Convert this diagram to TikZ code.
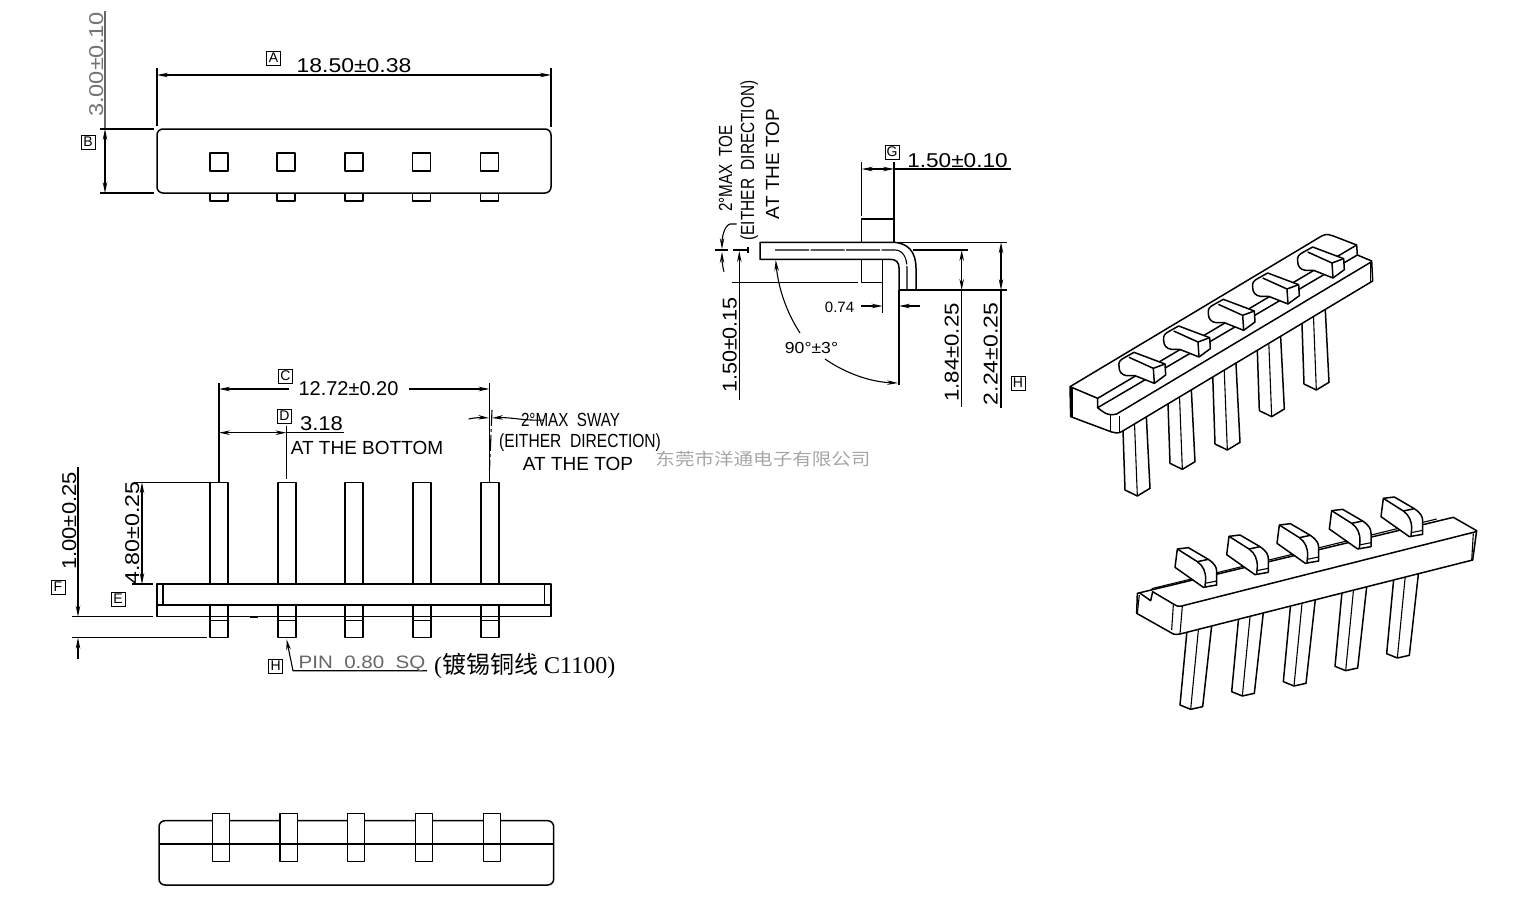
\documentclass[tikz,border=0pt]{standalone}
\usepackage{fontspec}
\usepackage{graphicx}
\usetikzlibrary{arrows.meta}
\setmainfont{Liberation Serif}
\newfontfamily\dimfont{Liberation Sans}
\newfontfamily\cjk{Noto Sans CJK SC}
\newcommand{\squeeze}[2]{\scalebox{#1}[1]{#2}}
\tikzstyle{part} = [line width=1.5pt, line join=round]
\tikzstyle{dimline} = [line width=1.1pt]
\tikzstyle{dimtext} = [inner sep=0pt, anchor=base, font=\dimfont\fontsize{20}{20}\selectfont]
\tikzstyle{notetext} = [inner sep=0pt, anchor=base, font=\dimfont\fontsize{19}{19}\selectfont]
\tikzstyle{refbox} = [rectangle, draw, line width=1pt, inner sep=0pt, minimum size=14pt, font=\dimfont\fontsize{14}{14}\selectfont]

\begin{document}
\begin{tikzpicture}[>={Stealth[length=11pt,width=4.5pt]},x=1pt,y=-1pt]
  \useasboundingbox (0,0) rectangle (1527,913);

  % top view
  \draw[part,rounded corners=6pt] (157,129) rectangle (551,193);
  \foreach \px in {210,277,345,412.5,480.5} {
    \draw[part,line width=1.3pt] (\px,153) rectangle +(18,18);
    \draw[part,line width=1.3pt] (\px,193) -- (\px,201) -- (\px+18,201) -- (\px+18,193);
  }
  \draw[dimline] (157,68) -- (157,126);
  \draw[dimline] (551,68) -- (551,127);
  \draw[dimline,<->] (157,75) -- (551,75);
  \node[refbox] (boxA) at (273.5,58) {A};
  \node[dimtext] (lenA) at (354,72) {\squeeze{1.15}{18.50±0.38}};
  \draw[dimline,black!60] (105,11) -- (105,129);
  \draw[dimline,<->] (105,129) -- (105,193);
  \draw[dimline] (100,129) -- (154,129);
  \draw[dimline] (100,193) -- (154,193);
  \node[refbox] (boxB) at (88,142) {B};
  \node[dimtext,rotate=90,black!55] (lenB) at (103,64.5) {\squeeze{1.18}{3.00±0.10}};

  % front view
  \foreach \px in {210,278,345,413,481} {
    \draw[part] (\px,584) -- (\px,482.3) -- (\px+18,482.3) -- (\px+18,584);
    \draw[part] (\px,605) -- (\px,637.7) -- (\px+18,637.7) -- (\px+18,605);
    \draw[part,line width=1pt] (\px,620.7) -- (\px+18,620.7);
    \draw[part,line width=1pt] (\px,616.7) -- (\px+18,616.7);
  }
  \draw[part] (157,584) rectangle (551,616.7);
  \draw[part] (157,605) -- (551,605);
  \draw[part,line width=1.1pt] (163,584) -- (163,605);
  \draw[part,line width=1.1pt] (544.5,584) -- (544.5,605);
  \draw[part] (250,617.5) -- (258,617.5);

  \draw[dimline] (219,383) -- (219,482);
  \draw[dimline] (489.5,383) -- (489.5,482);
  \draw[dimline,<-] (219,389) -- (289,389);
  \draw[dimline,->] (408.6,389) -- (489.5,389);
  \node[refbox] (boxC) at (285.5,376) {C};
  \node[dimtext] (lenC) at (348.5,395) {12.72±0.20};
  \draw[dimline,<->] (219,432.7) -- (286.5,432.7);
  \draw[dimline] (286.5,432.7) -- (344,432.7);
  \draw[dimline] (286.5,426) -- (286.5,479);
  \node[refbox] (boxD) at (284.5,416) {D};
  \node[dimtext] (lenD) at (321.5,430.5) {\squeeze{1.1}{3.18}};
  \node[notetext] (noteD) at (367,454) {AT THE BOTTOM};

  \draw[dimline,dash pattern=on 16pt off 3pt on 3pt off 3pt] (492,410) -- (489.5,470);
  \draw[dimline,->] (468.6,419) .. controls (475,417.5) and (482,417.5) .. (489,418);
  \draw[dimline,->] (544,420) .. controls (525,421) and (510,417) .. (492,418);
  \node[notetext] (noteSwayA) at (570.5,426) {\squeeze{.8}{2°MAX\ \ SWAY}};
  \node[notetext] (noteSwayB) at (580,447) {\squeeze{.82}{(EITHER\ \ DIRECTION)}};
  \node[notetext] (noteSwayC) at (578,470) {AT THE TOP};
  \node[inner sep=0pt,text=black!35,font=\cjk\fontsize{17}{17}\selectfont] (mark) at (763,459) {\squeeze{1.15}{东莞市洋通电子有限公司}};

  \draw[dimline] (134,482.3) -- (210,482.3);
  \draw[dimline] (132,584) -- (153,584);
  \draw[dimline,<->] (142,482.3) -- (142,584);
  \node[dimtext,rotate=90] (lenE) at (139,533) {\squeeze{1.16}{4.80±0.25}};
  \node[refbox] (boxE) at (118,599) {E};

  \draw[dimline] (72,616.7) -- (153,616.7);
  \draw[dimline] (72,637.7) -- (207,637.7);
  \draw[dimline,->] (78,467) -- (78,616.7);
  \draw[dimline,->] (78,659) -- (78,637.7);
  \node[dimtext,rotate=90] (lenF) at (76,521) {\squeeze{1.1}{1.00±0.25}};
  \node[refbox] (boxF) at (58,587) {F};

  \node[refbox] (boxH) at (275.7,666) {H};
  \draw[dimline,<-] (286.5,639) -- (293,670.7) -- (427,670.7);
  \node[dimtext,text=black!60,font=\dimfont\fontsize{18}{18}\selectfont] (notePin) at (362,668) {\squeeze{1.14}{PIN\ \ 0.80\ \ SQ}};
  \node[inner sep=0pt,anchor=base west,font=\fontsize{24}{24}\selectfont] (noteCu) at (434,673) {({\cjk\fontsize{24}{24}\selectfont 镀锡铜线} C1100)};

  % bottom view
  \draw[part,rounded corners=6pt] (159,820.7) rectangle (553.7,885);
  \foreach \px in {212.3,280,347.3,415.3,483.3} {
    \draw[part,fill=white] (\px,813.7) rectangle +(17.4,48);
  }
  \draw[part] (159,844) -- (553.7,844);

  % side view
  \draw[part] (760,242.3) -- (892,242.3) .. controls (908,242.3) and (916,252) .. (916,268)
    -- (916,290) -- (899,290) -- (899,268) .. controls (899,262) and (896,259.3) .. (890,259.3)
    -- (760,259.3) -- cycle;
  \draw[dimline,dash pattern=on 34pt off 1.5pt] (775,250) -- (895,250) .. controls (903,250) and (907,258) .. (907,268) -- (907,290);
  \draw[part] (861.7,242.3) -- (861.7,219) -- (894,219) -- (894,242.3);
  \draw[part] (861.7,259.3) -- (861.7,282.3) -- (882.7,282.3) -- (882.7,259.3);

  \draw[dimline] (861.7,162) -- (861.7,215.7);
  \draw[dimline] (894,162) -- (894,219);
  \draw[dimline,<->] (861.7,169) -- (894,169);
  \draw[dimline] (894,169) -- (1011,169);
  \node[refbox] (boxG) at (892,152) {G};
  \node[dimtext] (lenG) at (957.5,167) {\squeeze{1.13}{1.50±0.10}};

  \draw[dimline] (894,242.3) -- (1007,242.3);
  \draw[dimline] (913,250) -- (968,250);
  \draw[dimline] (899,290) -- (1007,290);
  \draw[dimline,<->] (961.7,250) -- (961.7,290);
  \draw[dimline] (961.7,290) -- (961.7,407);
  \draw[dimline,<->] (1001,242.3) -- (1001,290);
  \draw[dimline] (1001,290) -- (1001,408);
  \node[dimtext,rotate=90] (lenJ) at (958.5,352.5) {\squeeze{1.11}{1.84±0.25}};
  \node[dimtext,rotate=90] (lenK) at (997.5,354) {\squeeze{1.15}{2.24±0.25}};
  \node[refbox] (boxH2) at (1018,383) {H};

  \draw[dimline] (732,282.3) -- (858,282.3);
  \draw[dimline,->] (739.3,400) -- (739.3,251);
  \node[dimtext,rotate=90] (lenL) at (736.5,345) {\squeeze{1.08}{1.50±0.15}};
  \draw[dimline] (715,250) -- (728,250);
  \draw[dimline] (733,250) -- (748,250);
  \draw[dimline] (748,247) -- (748,253);
  \draw[dimline,->] (736.7,224) -- (730,224) .. controls (724,226) and (722,238) .. (722,249);
  \draw[dimline,->] (724,271.7) .. controls (722,265) and (722,258) .. (722,252);
  \node[notetext,rotate=90] (noteToeA) at (732,168.5) {\squeeze{.8}{2°MAX\ \ TOE}};
  \node[notetext,rotate=90] (noteToeB) at (754,160.5) {\squeeze{.81}{(EITHER\ \ DIRECTION)}};
  \node[notetext,rotate=90] (noteToeC) at (779,164) {AT THE TOP};

  \draw[dimline] (882.7,282.3) -- (882.7,313);
  \draw[dimline] (899,290) -- (899,385);
  \draw[dimline,->] (861,306) -- (882.7,306);
  \draw[dimline,->] (920,306) -- (899,306);
  \node[dimtext,font=\dimfont\fontsize{15}{15}\selectfont] (lenM) at (839.5,312) {0.74};
  \node[dimtext,font=\dimfont\fontsize{16}{16}\selectfont] (angA) at (811.5,353) {\squeeze{1.1}{90°±3°}};
  \draw[dimline,->] (800,333) .. controls (785,310) and (778,285) .. (775.7,260);
  \draw[dimline,->] (825,359) .. controls (845,373) and (870,382) .. (898,383);

  % isometric view from above
  \begin{scope}[shift={(1050,220)},scale=1/3]
    \foreach \dx/\dy in {0/0,135/-80,270/-138,403/-238,537/-318} {
      \begin{scope}[shift={(\dx,\dy)}]
        \draw[part] (217,570) -- (225,810) -- (262,828) -- (300,805) -- (287,550);
        \draw[part,line width=1.1pt] (252,570) -- (262,828);
      \end{scope}
    }
    \draw[part,fill=white] (60,500) -- (815,48) .. controls (830,40) and (840,44) .. (850,48)
      -- (920,75) -- (922,105) -- (965,123) -- (968,183) -- (215,635)
      .. controls (205,640) and (195,640) .. (185,636) -- (62,590) -- cycle;
    \draw[part] (60,500) -- (143,535) -- (920,75);
    \draw[part] (143,535) -- (143,563) -- (922,105);
    \draw[part] (143,563) .. controls (155,572) and (170,590) .. (200,582) -- (965,125);
    \draw[part,line width=1.1pt] (66,505) -- (66,590);
    \draw[part,line width=1.1pt] (182,585) -- (182,632);
    \draw[part,line width=1.1pt] (208,587) -- (208,635);
    \draw[part,line width=1.1pt] (961,127) -- (961,186);
    \foreach \dx/\dy in {0/0,134/-79,268/-159,401/-238,536/-316} {
      \begin{scope}[shift={(\dx,\dy)}]
        \draw[part,fill=white] (207,440) .. controls (205,425) and (210,420) .. (225,412)
          -- (252,397) -- (345,432) -- (347,465) -- (313,490) -- (255,467) -- (230,467)
          .. controls (215,465) and (207,455) .. (207,440) -- cycle;
        \draw[part] (237,412) -- (310,445) -- (345,432);
        \draw[part] (310,445) -- (313,490);
      \end{scope}
    }
  \end{scope}

  % isometric view from behind
  \begin{scope}[shift={(1120,480)},scale=1/3]
    \foreach \dx/\dy in {0/0,155/-40,310/-70,465/-116,620/-154} {
      \begin{scope}[shift={(\dx,\dy)}]
        \draw[part] (204,420) -- (180,675) -- (212,688) -- (248,680) -- (278,410);
        \draw[part,line width=1.1pt] (238,420) -- (212,688);
      \end{scope}
    }
    \draw[part,fill=white] (52,340) -- (1000,112) -- (1070,152) -- (1058,240) -- (180,462)
      .. controls (172,464) and (165,464) .. (160,462) -- (50,400) -- cycle;
    \draw[part] (58,338) -- (92,362) -- (98,335) -- (160,372) .. controls (168,378) and (175,380) .. (185,378) -- (1068,155);
    \draw[part,line width=1.1pt] (95,326) -- (950,117);
    \draw[part,line width=1.1pt] (160,375) -- (155,450);
    \draw[part,line width=1.1pt] (187,378) -- (180,462);
    \draw[part,line width=1.1pt] (58,345) -- (52,400);
    \draw[part,line width=1.1pt] (1060,160) -- (1055,241);
    \foreach \dx/\dy in {0/0,155/-38,306/-72,463/-115,618/-152} {
      \begin{scope}[shift={(\dx,\dy)}]
        \draw[part,fill=white] (172,207) -- (205,203) -- (265,238) .. controls (285,252) and (290,262) .. (290,275)
          -- (290,315) -- (250,322) -- (165,262) -- cycle;
        \draw[part] (172,207) -- (232,245) .. controls (250,258) and (257,275) .. (257,298) -- (255,320);
        \draw[part] (232,245) -- (265,238);
        \draw[part,line width=1.1pt] (255,310) -- (290,303);
      \end{scope}
    }
  \end{scope}
\end{tikzpicture}
\end{document}
